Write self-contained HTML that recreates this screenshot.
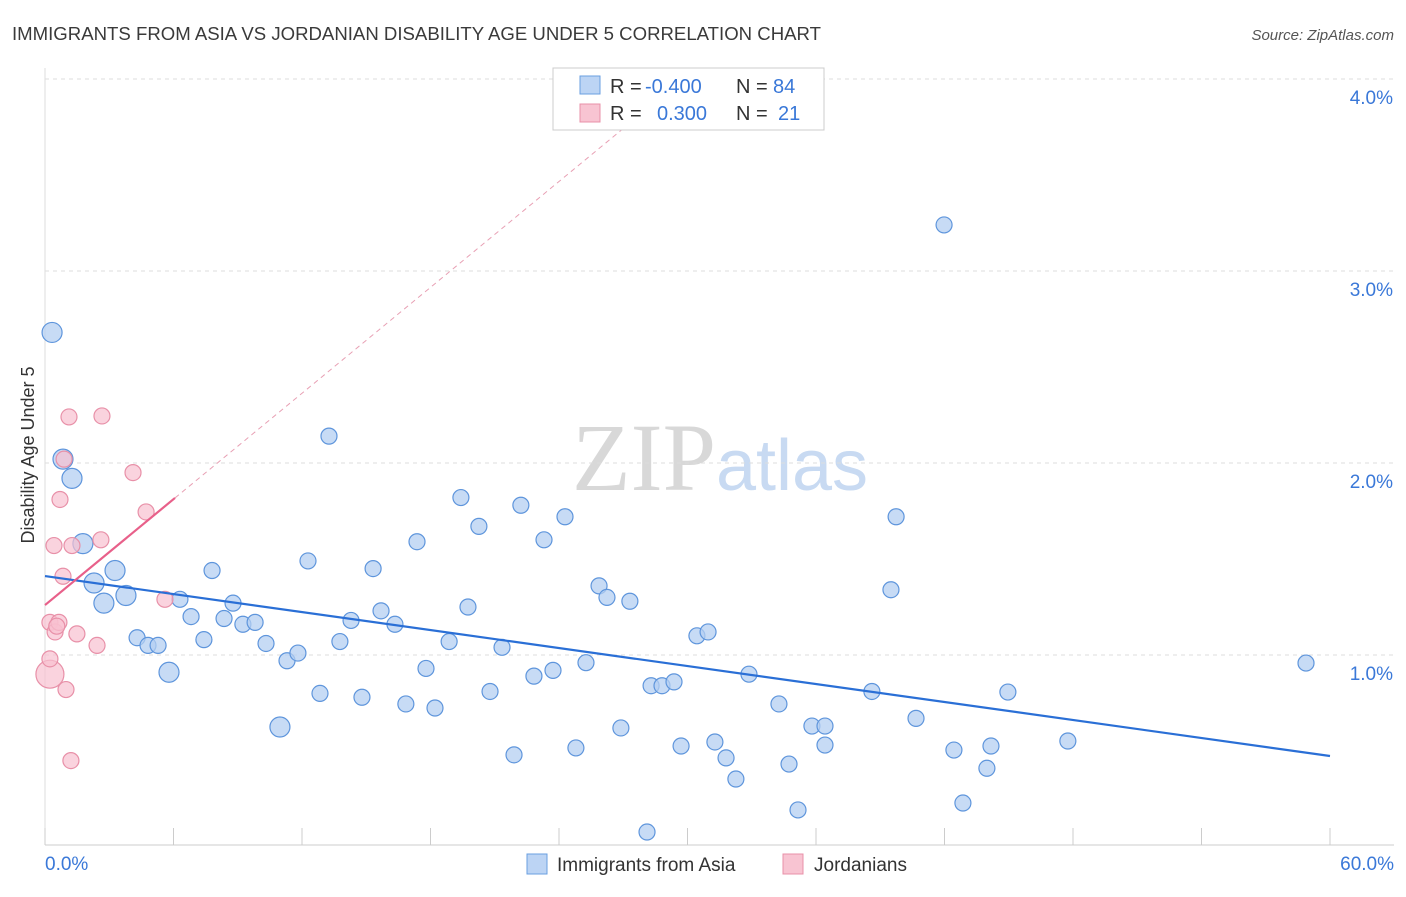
<!DOCTYPE html>
<html><head><meta charset="utf-8">
<style>
body{margin:0;background:#fff;font-family:"Liberation Sans",sans-serif;}
</style></head>
<body>
<svg id="chart" width="1406" height="892" xmlns="http://www.w3.org/2000/svg" style="font-family:'Liberation Sans',sans-serif">
<text x="12" y="40" font-size="18.6" fill="#3a3a3a">IMMIGRANTS FROM ASIA VS JORDANIAN DISABILITY AGE UNDER 5 CORRELATION CHART</text>
<text x="1394" y="40" font-size="15" fill="#555" font-style="italic" text-anchor="end">Source: ZipAtlas.com</text>
<text x="720" y="490" font-size="96" text-anchor="middle"><tspan fill="#d8d8d8" font-family="Liberation Serif">ZIP</tspan><tspan fill="#c8daf2" font-size="72">atlas</tspan></text>
<g id="grid"></g>
<g id="axes"></g>
<g id="marks"></g>
<text transform="translate(34,455) rotate(-90)" font-size="18" fill="#333" text-anchor="middle">Disability Age Under 5</text>
<g font-size="20">
<rect x="553" y="68" width="271" height="62" fill="#fff" stroke="#ccc"/>
<rect x="580" y="76" width="20" height="18" fill="#bcd4f4" stroke="#6a9fe0"/>
<rect x="580" y="104" width="20" height="18" fill="#f8c4d2" stroke="#e890a8"/>
<text x="610" y="93" fill="#333">R =</text>
<text x="645" y="93" fill="#3a78d8">-0.400</text>
<text x="736" y="93" fill="#333">N =</text>
<text x="773" y="93" fill="#3a78d8">84</text>
<text x="610" y="120" fill="#333">R =</text>
<text x="657" y="120" fill="#3a78d8">0.300</text>
<text x="736" y="120" fill="#333">N =</text>
<text x="778" y="120" fill="#3a78d8">21</text>
</g>
<g>
<rect x="527" y="854" width="20" height="20" fill="#bcd4f4" stroke="#6a9fe0"/>
<text x="557" y="871" font-size="19" fill="#333">Immigrants from Asia</text>
<rect x="783" y="854" width="20" height="20" fill="#f8c4d2" stroke="#e890a8"/>
<text x="814" y="871" font-size="19" fill="#333">Jordanians</text>
</g>
</svg>
<script>
const blueX=[0.33,0.84,1.26,1.77,2.29,2.75,3.27,3.78,4.30,4.81,5.28,5.79,6.30,6.82,7.42,7.80,8.36,8.78,9.24,9.81,10.32,10.97,11.30,11.81,12.28,12.84,13.26,13.77,14.29,14.80,15.32,15.69,16.34,16.85,17.37,17.79,18.21,18.87,19.42,19.75,20.26,20.78,21.34,21.90,22.22,22.83,23.30,23.72,24.28,24.79,25.26,25.87,26.24,26.89,27.31,28.11,28.30,28.81,29.37,29.70,30.44,30.96,31.28,31.80,32.26,32.87,34.27,34.74,35.16,35.81,36.42,36.42,38.61,39.74,39.50,40.67,41.98,42.44,42.86,43.98,44.17,44.96,47.76,58.88];
const blueY=[2.68,2.02,1.92,1.58,1.375,1.27,1.44,1.31,1.09,1.05,1.05,0.91,1.29,1.20,1.08,1.44,1.19,1.27,1.16,1.17,1.06,0.625,0.97,1.01,1.49,0.80,2.14,1.07,1.18,0.78,1.45,1.23,1.16,0.745,1.59,0.93,0.724,1.07,1.82,1.25,1.67,0.81,1.04,0.48,1.78,0.89,1.60,0.92,1.72,0.516,0.96,1.36,1.30,0.62,1.28,0.078,0.84,0.84,0.86,0.526,1.10,1.12,0.547,0.464,0.354,0.90,0.745,0.432,0.193,0.63,0.63,0.531,0.81,1.72,1.34,0.67,3.24,0.505,0.229,0.41,0.526,0.807,0.552,0.958];
const pinkX=[0.23,0.23,0.23,0.47,0.65,0.42,0.70,0.89,1.12,0.84,0.98,1.21,1.26,1.49,2.43,2.61,2.66,4.11,4.72,5.60,0.55];
const pinkY=[0.90,0.98,1.17,1.12,1.17,1.57,1.81,2.02,2.24,1.41,0.82,0.45,1.57,1.11,1.05,1.60,2.245,1.95,1.745,1.29,1.15];
const blueFit=[1.411,0.474];
const pinkFit=[1.26,1.818];
const yTicks=[1,2,3,4];
const yTickLabels=["1.0%","2.0%","3.0%","4.0%"];
const xTicks=[0,6,12,18,24,30,36,42,48,54,60];
const NS="http://www.w3.org/2000/svg";
const X=v=>45+v*(1285/60), Y=v=>847-v*192;
function mk(tag,attrs,parent){const e=document.createElementNS(NS,tag);for(const k in attrs)e.setAttribute(k,attrs[k]);parent.appendChild(e);return e;}
const grid=document.getElementById('grid'),axes=document.getElementById('axes'),marks=document.getElementById('marks');
yTicks.forEach((t,i)=>{
 const l=mk('line',{x1:45,x2:1394,y1:Y(t),y2:Y(t),stroke:'#ddd','stroke-dasharray':'4,4'},grid);
 
 
 const tx=mk('text',{x:1393,y:Y(t)+25,'font-size':19,fill:'#3a78d8','text-anchor':'end'},axes);
 tx.textContent=yTickLabels[i];
 
 
});
const ax=mk('line',{x1:45,x2:1394,y1:845,y2:845,stroke:'#ccc'},axes);


const ay=mk('line',{x1:45,x2:45,y1:68,y2:845,stroke:'#ddd'},axes);


xTicks.forEach(t=>{const l=mk('line',{x1:X(t),x2:X(t),y1:828,y2:845,stroke:'#ccc'},axes);
 
 });
const xl0=mk('text',{x:45,y:870,'font-size':19,fill:'#3a78d8'},axes);xl0.textContent='0.0%';


const xl1=mk('text',{x:1394,y:870,'font-size':19,fill:'#3a78d8','text-anchor':'end'},axes);xl1.textContent='60.0%';


blueX.forEach((v,i)=>{const r=(i<8||i===11||i===21)?10:8;
 const c=mk('circle',{cx:X(v),cy:Y(blueY[i]),r:r,fill:'#b4cff2','fill-opacity':0.75,stroke:'#5e95dc','stroke-width':1.2},marks);
 
 });
pinkX.forEach((v,i)=>{const r=i===0?14:8;
 const c=mk('circle',{cx:X(v),cy:Y(pinkY[i]),r:r,fill:'#f8c0d0','fill-opacity':0.7,stroke:'#e890a8','stroke-width':1.2},marks);
 
 });
const bl=mk('line',{x1:X(0),y1:Y(blueFit[0]),x2:X(60),y2:Y(blueFit[1]),stroke:'#2a6fd6','stroke-width':2.2},marks);


const slope=(pinkFit[1]-pinkFit[0])/6.07;
const xe=(4.05-pinkFit[0])/slope;
const pd=mk('line',{x1:X(6.07),y1:Y(pinkFit[1]),x2:X(xe),y2:Y(4.05),stroke:'#e8a0b4','stroke-width':1,'stroke-dasharray':'5,4'},marks);


const pl=mk('line',{x1:X(0),y1:Y(pinkFit[0]),x2:X(6.07),y2:Y(pinkFit[1]),stroke:'#e8608a','stroke-width':2.2},marks);


</script>
</body></html>
